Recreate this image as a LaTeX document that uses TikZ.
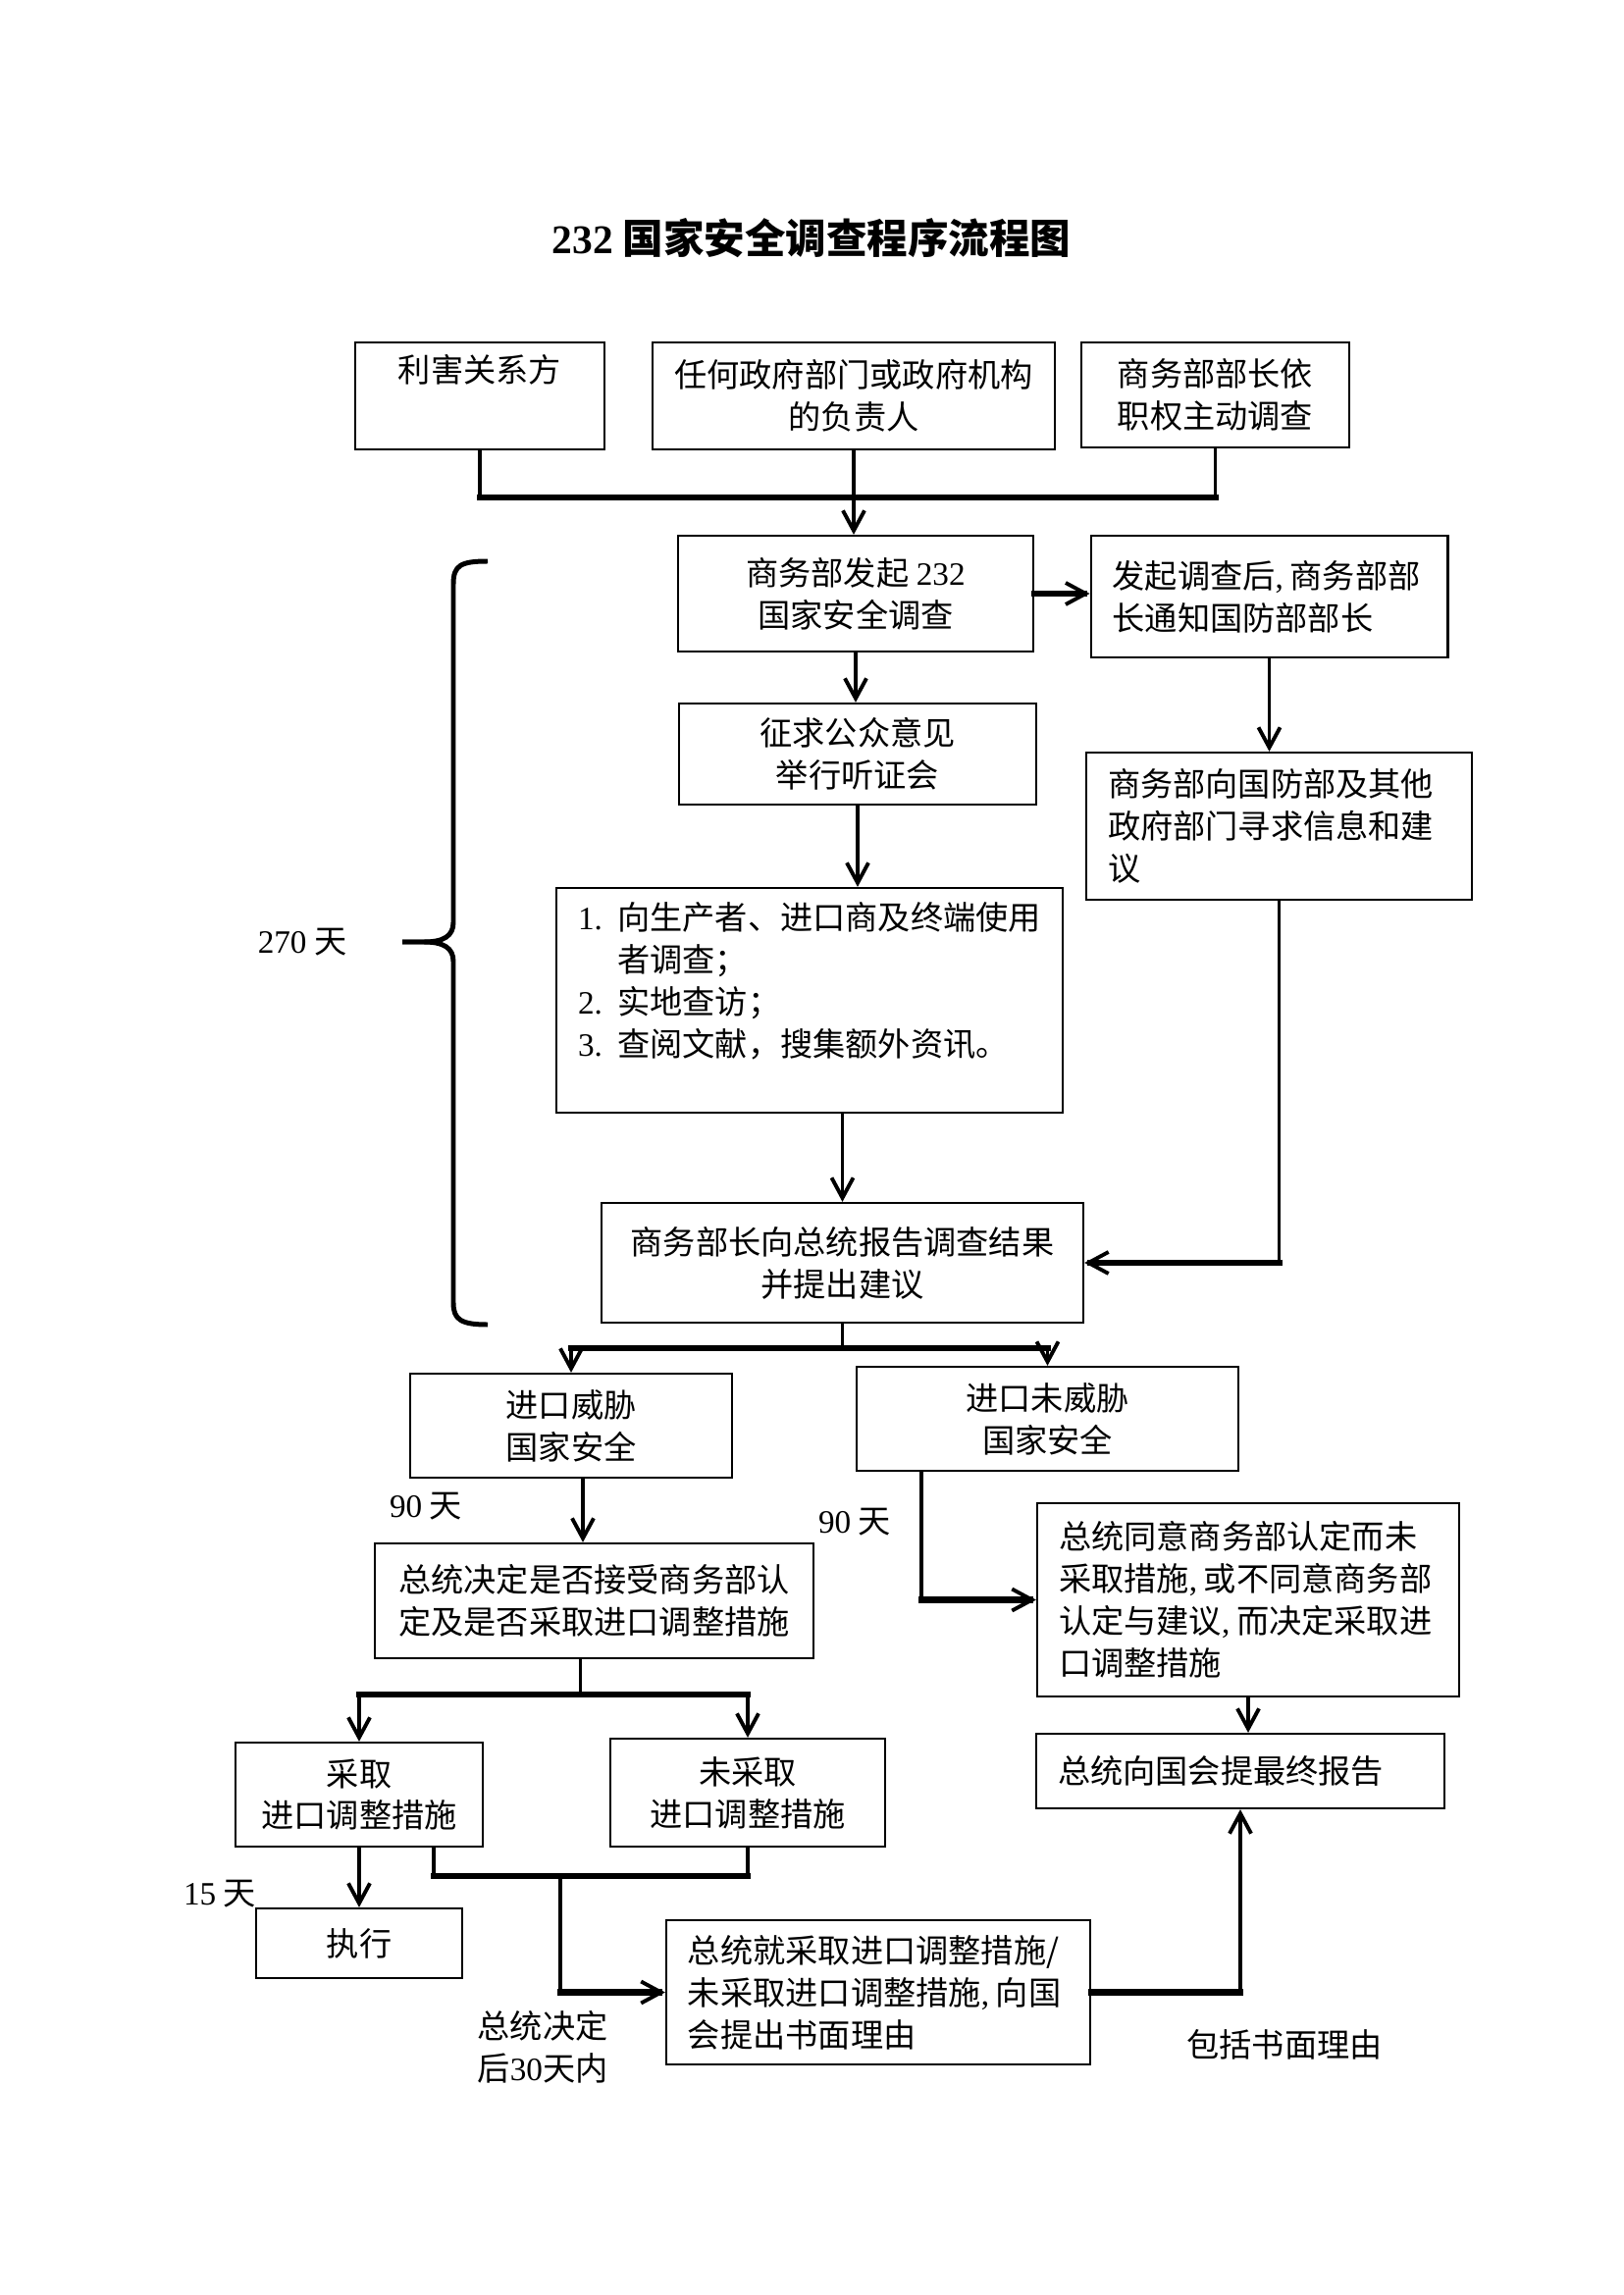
\documentclass[tikz,border=0pt]{standalone}
\usepackage{fontspec}
\setmainfont{Liberation Serif}
\newfontfamily\cjk{Noto Sans CJK SC}
\usetikzlibrary{arrows.meta, calc}
\newcommand\tnr[1]{{\rmfamily #1}}
\newcommand\hcomma{\tnr{,}\nobreak\hspace{0.2em}\nobreak}

\tikzset{
  box/.style={draw, line width=0.8pt, inner sep=0pt, align=center,
    font=\cjk\fontsize{12}{15.5}\selectfont},
  boxsize/.style 2 args={minimum width=#1*0.127mm, minimum height=#2*0.127mm},
  lbox/.style 2 args={box, align=left, inner xsep=2.8mm, text width=#1,
    minimum height=#2*0.127mm},
  lbl/.style={inner sep=0pt, align=center, font=\cjk\fontsize{12}{15.5}\selectfont},
  stem/.style={line width=1.3pt, line cap=rect},
  trunk/.style={line width=2.3pt, line cap=rect},
  headed/.style={-{Straight Barb[length=2.6mm,width=2.8mm,line width=1.4pt]}}
}

\begin{document}
\begin{tikzpicture}[x=0.127mm, y=-0.127mm]
  \useasboundingbox (0,0) rectangle (1654,2339);

  \node[font=\cjk\bfseries\fontsize{15}{18}\selectfont] (title) at (827,243)
    {\tnr{232} 国家安全调查程序流程图};

  % sources
  \node[box, boxsize={254}{109}] (src1) at (489,403.5) {利害关系方\\\strut};
  \node[box, boxsize={410}{109}] (src2) at (870,403.5) {任何政府部门或政府机构\\的负责人};
  \node[box, boxsize={273}{107}] (src3) at (1238.5,402.5) {商务部部长依\\职权主动调查};

  % investigation
  \node[box, boxsize={362}{118}] (start) at (872,605) {商务部发起 \tnr{232}\\国家安全调查};
  \node[lbox={40.6mm}{124}] (notify) at (1293.5,608) {发起调查后\hcomma 商务部部\\长通知国防部部长};
  \node[box, boxsize={364}{103}] (hearing) at (874,768.5) {征求公众意见\\举行听证会};
  \node[lbox={44.32mm}{150}] (consult) at (1303.5,842) {商务部向国防部及其他\\政府部门寻求信息和建\\议};
  \node[lbox={59.94mm}{229}] (survey) at (825,1019.5)
    {\makebox[5.1mm][l]{\tnr{1.}}向生产者、进口商及终端使用\\
     \hspace*{5.1mm}者调查；\\
     \makebox[5.1mm][l]{\tnr{2.}}实地查访；\\
     \makebox[5.1mm][l]{\tnr{3.}}查阅文献，搜集额外资讯。\\[-4.7pt]\strut};
  \node[box, boxsize={491}{122}] (report) at (858.5,1287) {商务部长向总统报告调查结果\\并提出建议};

  % findings
  \node[box, boxsize={328}{106}] (threat) at (582,1453) {进口威胁\\国家安全};
  \node[box, boxsize={389}{106}] (nothreat) at (1067.5,1446) {进口未威胁\\国家安全};
  \node[box, boxsize={447}{117}] (decide) at (605.5,1631.5) {总统决定是否接受商务部认\\定及是否采取进口调整措施};
  \node[lbox={49.02mm}{197}] (agree) at (1272,1630.5)
    {总统同意商务部认定而未\\采取措施\hcomma 或不同意商务部\\认定与建议\hcomma 而决定采取进\\口调整措施};
  \node[lbox={47.24mm}{76}] (final) at (1264,1805) {总统向国会提最终报告};
  \node[box, boxsize={252}{106}] (act) at (366,1829) {采取\\进口调整措施};
  \node[box, boxsize={280}{110}] (noact) at (762,1827) {未采取\\进口调整措施};
  \node[box, boxsize={210}{71}] (exec) at (366,1980.5) {执行};
  \node[lbox={49.28mm}{147}] (reason) at (895,2030.5)
    {总统就采取进口调整措施/\\未采取进口调整措施\hcomma 向国\\会提出书面理由};

  % time labels
  \node[lbl] (days270) at (308,960) {\tnr{270} 天};
  \node[lbl] (days90a) at (434,1535) {\tnr{90} 天};
  \node[lbl] (days90b) at (871,1551) {\tnr{90} 天};
  \node[lbl] (days15) at (224,1930) {\tnr{15} 天};
  \node[lbl] (within30) at (553,2086) {总统决定\\后\tnr{30}天内};
  \node[lbl] (incl) at (1309,2084) {包括书面理由};

  % brace for 270 days
  \draw[line width=1.8pt]
    (497,572) .. controls (470,572) and (462,576) .. (462,595) -- (462,940)
    .. controls (462,954) and (452,960) .. (432,960) -- (410,960);
  \draw[line width=1.8pt]
    (410,960) -- (432,960) .. controls (452,960) and (462,966) .. (462,980)
    -- (462,1328) .. controls (462,1345) and (470,1350) .. (497,1350);

  % connectors
  \coordinate (srcbar) at (870,507);
  \draw[trunk] (src1.south |- srcbar) -- (src3.south |- srcbar);
  \draw[stem] (src1.south) -- (src1.south |- srcbar);
  \draw[stem] (src3.south) -- (src3.south |- srcbar);
  \draw[stem, headed] (src2.south) -- (src2.south |- start.north);

  \draw[trunk, headed] (start.east) -- (start.east -| notify.west);
  \draw[stem, headed] (start.south) -- (start.south |- hearing.north);
  \draw[stem, headed] (hearing.south) -- (hearing.south |- survey.north);
  \draw[stem, headed] (notify.south) -- (notify.south |- consult.north);
  \draw[stem, headed] (report.north |- survey.south) -- (report.north);
  \draw[stem] (consult.south) -- (consult.south |- report.east);
  \draw[trunk, headed] (consult.south |- report.east) -- (report.east);

  \coordinate (splitbar) at (858.5,1374);
  \draw[stem] (report.south) -- (report.south |- splitbar);
  \draw[trunk] (threat.north |- splitbar) -- (nothreat.north |- splitbar);
  \draw[stem, headed] (threat.north |- splitbar) -- (threat.north);
  \draw[stem, headed] (nothreat.north |- splitbar) -- (nothreat.north);

  \coordinate (threatout) at ($(threat.south)+(12,0)$);
  \draw[stem, headed] (threatout) -- (threatout |- decide.north);
  \coordinate (nothreatout) at ($(nothreat.south west)+(67,0)$);
  \draw[stem] (nothreatout) -- (nothreatout |- agree.west);
  \draw[trunk, headed] (nothreatout |- agree.west) -- (agree.west);
  \draw[stem, headed] (agree.south) -- (agree.south |- final.north);

  \coordinate (actbar) at (591,1727);
  \coordinate (decideout) at ($(decide.south)+(-14,0)$);
  \draw[stem] (decideout) -- (decideout |- actbar);
  \draw[trunk] (act.north |- actbar) -- (noact.north |- actbar);
  \draw[stem, headed] (act.north |- actbar) -- (act.north);
  \draw[stem, headed] (noact.north |- actbar) -- (noact.north);
  \draw[stem, headed] (act.south) -- (exec.north);

  \coordinate (mergebar) at (571,1912);
  \coordinate (actout) at ($(act.south east)+(-51,0)$);
  \draw[stem] (actout) -- (actout |- mergebar);
  \draw[stem] (noact.south) -- (noact.south |- mergebar);
  \draw[trunk] (actout |- mergebar) -- (noact.south |- mergebar);
  \draw[stem] (mergebar) -- (mergebar |- reason.west);
  \draw[trunk, headed] (mergebar |- reason.west) -- (reason.west);

  \draw[trunk] (reason.east) -- (reason.east -| final.south);
  \draw[stem, headed] (reason.east -| final.south) -- (final.south);
\end{tikzpicture}
\end{document}
